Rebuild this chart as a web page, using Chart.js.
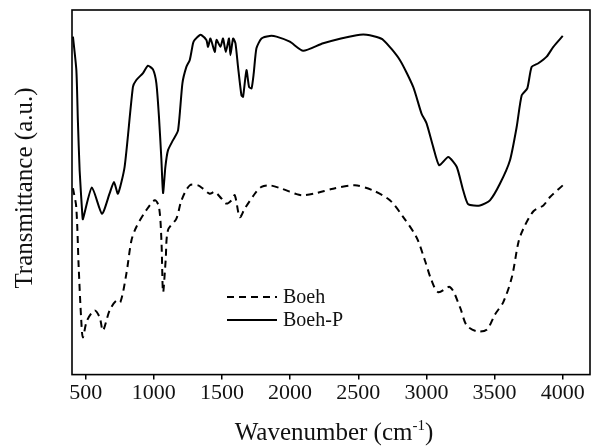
<!DOCTYPE html>
<html>
<head>
<meta charset="utf-8">
<script src="https://cdn.jsdelivr.net/npm/chart.js@4.4.1/dist/chart.umd.min.js"></script>
<style>
  html, body { margin: 0; padding: 0; background: #fff; }
  #wrap { width: 591px; height: 446px; position: relative; }
</style>
</head>
<body>
<div id="wrap"><canvas id="c"></canvas></div>
<script>
// ---- Data ----
const seriesNames = ["Boeh", "Boeh-P"];

// Boeh (dashed)
const boehX = [407, 431, 449, 468, 480, 510, 566, 603, 627, 676, 725, 755, 799, 836, 872, 945, 1007, 1038, 1056, 1068, 1087, 1104, 1166, 1203, 1264, 1325, 1361, 1410, 1447, 1496, 1533, 1570, 1594, 1631, 1667, 1741, 1790, 1851, 1937, 2047, 2096, 2194, 2316, 2475, 2609, 2732, 2830, 2928, 2989, 3038, 3087, 3173, 3246, 3295, 3369, 3442, 3503, 3564, 3626, 3675, 3711, 3785, 3858, 3907, 4000];
const boehY = [51.1, 46.0, 29.5, 14.8, 10.2, 14.8, 17.6, 15.7, 12.1, 17.6, 20.3, 19.9, 27.7, 36.8, 40.5, 45.1, 47.8, 46.0, 36.8, 22.6, 31.3, 39.6, 42.8, 47.8, 51.9, 51.9, 51.0, 49.6, 50.1, 48.3, 46.9, 47.8, 49.2, 43.2, 45.5, 49.6, 51.5, 51.9, 51.0, 49.5, 49.2, 49.8, 51.0, 51.9, 50.5, 47.8, 43.2, 37.6, 31.3, 25.8, 22.6, 24.0, 18.5, 13.5, 11.9, 12.3, 16.5, 19.9, 26.6, 36.3, 40.0, 44.8, 46.4, 48.7, 51.9];

// Boeh-P (solid)
const boehPX = [407, 432, 443, 456, 476, 480, 546, 620, 676, 708, 737, 786, 847, 872, 921, 957, 994, 1019, 1038, 1056, 1068, 1085, 1104, 1141, 1178, 1210, 1239, 1264, 1288, 1300, 1337, 1350, 1386, 1398, 1416, 1447, 1460, 1489, 1508, 1528, 1552, 1562, 1582, 1599, 1618, 1643, 1655, 1680, 1699, 1717, 1733, 1753, 1790, 1851, 1900, 1998, 2096, 2243, 2488, 2585, 2683, 2805, 2903, 2964, 3001, 3050, 3094, 3160, 3222, 3270, 3307, 3393, 3466, 3540, 3613, 3662, 3699, 3740, 3772, 3821, 3882, 3931, 4000];
const boehPY = [92.7, 83.5, 69.8, 56.0, 43.7, 42.6, 51.3, 44.1, 49.7, 52.8, 49.6, 57.0, 78.9, 80.8, 82.7, 84.7, 83.7, 79.9, 70.7, 58.8, 49.8, 57.0, 61.5, 64.3, 67.0, 79.9, 84.4, 86.3, 90.9, 91.8, 93.1, 93.1, 91.8, 89.9, 92.2, 88.5, 91.8, 89.9, 92.2, 88.5, 92.2, 87.6, 92.2, 90.9, 84.4, 76.6, 76.2, 83.5, 78.9, 78.5, 82.6, 89.5, 92.2, 92.9, 92.7, 91.3, 88.8, 90.9, 93.1, 93.1, 91.8, 86.3, 78.9, 71.6, 68.9, 62.4, 57.4, 59.7, 57.0, 50.5, 46.7, 46.4, 47.8, 52.4, 58.8, 67.9, 76.6, 78.5, 84.4, 85.4, 87.2, 89.9, 92.9];

const xTicks = [500, 1000, 1500, 2000, 2500, 3000, 3500, 4000];
const xTitleMain = "Wavenumber (cm";
const xTitleSup = "-1";
const xTitleEnd = ")";
const yTitle = "Transmittance (a.u.)";

const FONT = "'Liberation Serif', 'Times New Roman', serif";

const toPts = (xs, ys) => xs.map((x, i) => ({ x: x, y: ys[i] }));

const framePlugin = {
  id: 'frame',
  afterDraw(chart) {
    const { ctx, chartArea: a } = chart;
    ctx.save();
    ctx.strokeStyle = '#000';
    ctx.lineWidth = 1.6;
    ctx.strokeRect(a.left, a.top, a.right - a.left, a.bottom - a.top);

    // y title
    ctx.fillStyle = '#111';
    ctx.font = "25px " + FONT;
    ctx.textAlign = 'center';
    ctx.textBaseline = 'middle';
    ctx.save();
    ctx.translate(25, 188);
    ctx.rotate(-Math.PI / 2);
    ctx.fillText(yTitle, 0, 0);
    ctx.restore();

    // x title with superscript
    const big = "25px " + FONT, small = "15px " + FONT;
    ctx.textAlign = 'left';
    ctx.textBaseline = 'alphabetic';
    ctx.font = big; const w1 = ctx.measureText(xTitleMain).width; const w3 = ctx.measureText(xTitleEnd).width;
    ctx.font = small; const w2 = ctx.measureText(xTitleSup).width;
    const total = w1 + w2 + w3;
    let x0 = 334 - total / 2;
    const base = 440;
    ctx.font = big; ctx.fillText(xTitleMain, x0, base);
    ctx.font = small; ctx.fillText(xTitleSup, x0 + w1, base - 10);
    ctx.font = big; ctx.fillText(xTitleEnd, x0 + w1 + w2, base);

    // legend
    const lx0 = 227, lx1 = 277, rows = [297, 320];
    ctx.font = "20px " + FONT;
    ctx.textBaseline = 'middle';
    chart.data.datasets.forEach((ds, i) => {
      ctx.strokeStyle = ds.borderColor;
      ctx.lineWidth = ds.borderWidth;
      ctx.setLineDash(ds.borderDash || []);
      ctx.beginPath();
      ctx.moveTo(lx0, rows[i]);
      ctx.lineTo(lx1, rows[i]);
      ctx.stroke();
      ctx.setLineDash([]);
      ctx.fillStyle = '#111';
      ctx.fillText(ds.label, 283, rows[i] + 1);
    });
    ctx.restore();
  }
};

new Chart(document.getElementById('c'), {
  type: 'line',
  data: {
    datasets: [
      { label: seriesNames[0], data: toPts(boehX, boehY), borderColor: '#000', borderWidth: 2, borderDash: [7, 5], pointRadius: 0, fill: false, tension: 0.3 },
      { label: seriesNames[1], data: toPts(boehPX, boehPY), borderColor: '#000', borderWidth: 2, pointRadius: 0, fill: false, tension: 0.2 }
    ]
  },
  options: {
    responsive: true,
    maintainAspectRatio: false,
    animation: false,
    layout: { padding: { left: 72, right: 1, top: 10, bottom: 40 } },
    plugins: { legend: { display: false }, tooltip: { enabled: false } },
    scales: {
      x: {
        type: 'linear', min: 400, max: 4200,
        afterBuildTicks: (s) => { s.ticks = xTicks.map(v => ({ value: v })); },
        grid: { drawOnChartArea: false, drawTicks: true, tickLength: 5, color: '#000', lineWidth: 1.5 },
        border: { display: false },
        ticks: { color: '#111', font: { family: FONT, size: 22 }, padding: 0, maxRotation: 0, autoSkip: false, callback: (v) => String(v) }
      },
      y: { display: false, min: 0, max: 100 }
    }
  },
  plugins: [framePlugin]
});
</script>
</body>
</html>
